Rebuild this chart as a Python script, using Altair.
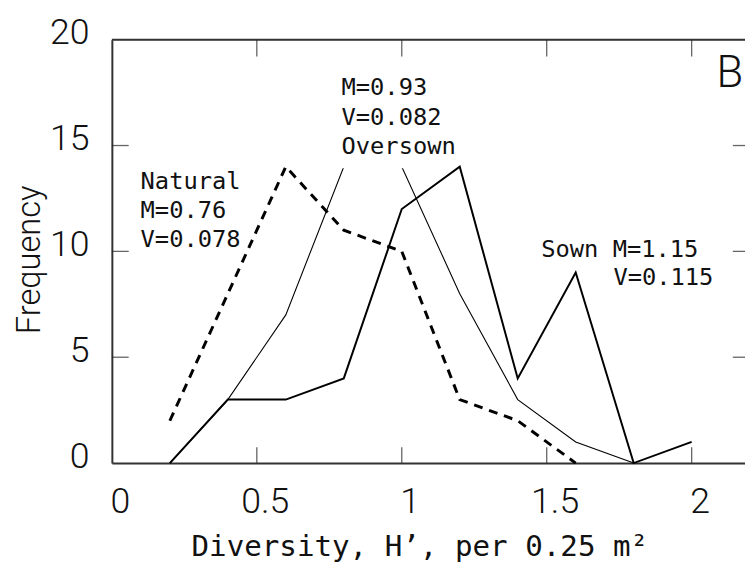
import altair as alt
import pandas as pd

# ---- data ----
x_sown = [0.2, 0.4, 0.6, 0.8, 1.0, 1.2, 1.4, 1.6, 1.8, 2.0]
y_sown = [0, 3, 3, 4, 12, 14, 4, 9, 0, 1]

x_oversown = [0.2, 0.4, 0.6, 0.8, 1.0, 1.2, 1.4, 1.6, 1.8]
y_oversown = [0, 3, 7, 14, 14, 8, 3, 1, 0]

x_natural = [0.2, 0.4, 0.6, 0.8, 1.0, 1.2, 1.4, 1.6]
y_natural = [2, 8, 14, 11, 10, 3, 2, 0]

x_tick_values = [0, 0.5, 1, 1.5, 2]
y_tick_values = [0, 5, 10, 15, 20]
x_inner_ticks = [0.5, 1, 1.5, 2]
y_inner_ticks = [5, 10, 15]

label_text = ["Natural", "M=0.76", "V=0.078",
              "M=0.93", "V=0.082", "Oversown",
              "Sown M=1.15", "V=0.115"]
label_x = [0.099, 0.099, 0.099, 0.792, 0.792, 0.792, 1.481, 1.730]
label_y = [12.94, 11.59, 10.23, 17.38, 15.98, 14.58, 9.72, 8.41]

panel_text = ["B"]
panel_x = [2.086]
panel_y = [17.76]

X_MAX = 2.184   # visible part of the axis (frame continues past the window)
X_FRAME = 2.2
Y_MAX = 20

sown_df = pd.DataFrame({"x": x_sown, "y": y_sown})
over_df = pd.DataFrame({"x": x_oversown, "y": y_oversown})
nat_df = pd.DataFrame({"x": x_natural, "y": y_natural})
labels_df = pd.DataFrame({"t": label_text, "x": label_x, "y": label_y})
panel_df = pd.DataFrame({"t": panel_text, "x": panel_x, "y": panel_y})
xt_df = pd.DataFrame({"x": x_inner_ticks})
yt_df = pd.DataFrame({"y": y_inner_ticks})

xscale = alt.Scale(domain=[0, X_MAX], nice=False, zero=False)
yscale = alt.Scale(domain=[0, Y_MAX], nice=False)

LABEL_FONT = "Roboto"
MONO = "DejaVu Sans Mono"
X_TITLE = "Diversity, H\u2019, per 0.25 m\u00b2"
Y_TITLE = "Frequency"

x_axis = alt.Axis(
    values=x_tick_values, format="~g", ticks=False, grid=False,
    domainColor="#333", domainWidth=2,
    labelFont=LABEL_FONT, labelFontSize=36, labelFontWeight=300, labelColor="#111",
    labelBaseline="top", labelPadding=22, labelOffset=8,
    labelFlush=False, labelOverlap=False,
    title=X_TITLE,
    titleFont=MONO, titleFontSize=29.5, titleFontWeight="normal", titleColor="#111",
    titleAnchor="start", titleAlign="left", titleBaseline="alphabetic",
    titleX=80, titleY=93,
)
y_axis = alt.Axis(
    values=y_tick_values, ticks=False, grid=False,
    domainColor="#333", domainWidth=2,
    labelFont=LABEL_FONT, labelFontSize=36, labelFontWeight=300, labelColor="#111",
    labelAlign="right", labelBaseline="alphabetic", labelPadding=23, labelOffset=4,
    labelFlush=False, labelOverlap=False,
    title=Y_TITLE,
    titleFont=LABEL_FONT, titleFontSize=33, titleFontWeight=300, titleColor="#111",
    titleAngle=270, titleAlign="center", titleBaseline="alphabetic",
    titleX=-73, titleY=222,
)


def X(field="x"):
    return alt.X(f"{field}:Q", scale=xscale, axis=x_axis, title=X_TITLE)


def Y(field="y"):
    return alt.Y(f"{field}:Q", scale=yscale, axis=y_axis, title=Y_TITLE)


sown = alt.Chart(sown_df).mark_line(color="black", strokeWidth=2).encode(x=X(), y=Y())
over = alt.Chart(over_df).mark_line(color="black", strokeWidth=1.1).encode(x=X(), y=Y())
nat = alt.Chart(nat_df).mark_line(color="black", strokeWidth=3, strokeDash=[9, 7]).encode(x=X(), y=Y())

one = pd.DataFrame({"a": [0]})

# white box behind the "Oversown" label
box = alt.Chart(one).mark_rect(color="white").encode(
    x=alt.datum(0.785, scale=xscale, axis=x_axis, title=X_TITLE),
    x2=alt.datum(1.12),
    y=alt.datum(13.93, scale=yscale, axis=y_axis, title=Y_TITLE),
    y2=alt.datum(18.6),
)

# frame: top line
top_line = alt.Chart(one).mark_rule(color="#333", strokeWidth=2).encode(
    x=alt.datum(0, scale=xscale, axis=x_axis, title=X_TITLE),
    x2=alt.datum(X_FRAME),
    y=alt.datum(Y_MAX, scale=yscale, axis=y_axis, title=Y_TITLE),
)

# inward ticks
tick_bottom = alt.Chart(xt_df).mark_tick(
    orient="vertical", size=16, thickness=1.3, color="#222", yOffset=-8
).encode(x=X(), y=alt.datum(0, scale=yscale, axis=y_axis, title=Y_TITLE))
tick_top = alt.Chart(xt_df).mark_tick(
    orient="vertical", size=17, thickness=1.3, color="#222", yOffset=8.5
).encode(x=X(), y=alt.datum(Y_MAX, scale=yscale, axis=y_axis, title=Y_TITLE))
tick_left = alt.Chart(yt_df).mark_tick(
    orient="horizontal", size=17, thickness=1.3, color="#222", xOffset=8.5
).encode(y=Y(), x=alt.datum(0, scale=xscale, axis=x_axis, title=X_TITLE))
tick_right = alt.Chart(yt_df).mark_tick(
    orient="horizontal", size=17, thickness=1.3, color="#222", xOffset=-8.5
).encode(y=Y(), x=alt.datum(X_FRAME, scale=xscale, axis=x_axis, title=X_TITLE))

labels = alt.Chart(labels_df).mark_text(
    font=MONO, fontSize=24, align="left", baseline="alphabetic", color="#111"
).encode(x=X(), y=Y(), text="t:N")
panel = alt.Chart(panel_df).mark_text(
    font=LABEL_FONT, fontSize=44, fontWeight=300, align="left", baseline="alphabetic", color="#111"
).encode(x=X(), y=Y(), text="t:N")

chart = alt.layer(
    sown, over, nat, box, top_line, tick_bottom, tick_top, tick_left, tick_right, labels, panel
).properties(
    width=640, height=428,
    padding={"left": 105, "top": 29, "right": 0, "bottom": 100},
    autosize=alt.AutoSizeParams(type="none"),
).configure_view(stroke=None).configure(background="white")

chart.save("out.html", embed_options={"renderer": "svg", "actions": False})
